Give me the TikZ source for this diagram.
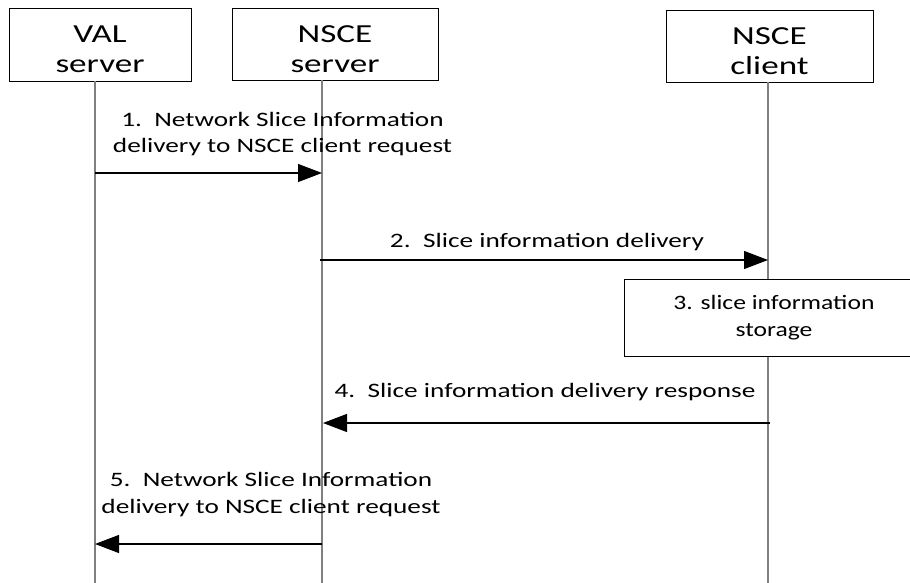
\documentclass[tikz,border=0pt]{standalone}
\usepackage{fontspec}
\newfontfamily\boxfont[FakeStretch=1.35]{Carlito}
\newfontfamily\lblfont[FakeStretch=1.33]{Carlito}
\newfontfamily\stfont[FakeStretch=1.25]{Carlito}
\usetikzlibrary{arrows.meta}
\begin{document}
\begin{tikzpicture}[x=1pt,y=-1pt,
  actor/.style={draw=black, line width=0.9pt, inner sep=0pt, align=center,
    font=\boxfont\fontsize{26}{30}\selectfont},
  life/.style={draw=black!50, line width=1.4pt},
  msg/.style={draw=black, line width=1.1pt, -{Triangle[length=24pt,width=18pt]}},
  lbl/.style={inner sep=0pt, align=center, font=\lblfont\fontsize{20.5}{26.5}\selectfont},
  procbox/.style={draw=black, line width=0.9pt, fill=white, inner sep=0pt, align=center,
    font=\stfont\fontsize{20.5}{27}\selectfont},
]
\useasboundingbox (0,0) rectangle (910,583);
% actors
\node[actor, minimum width=182pt, minimum height=73pt] (val) at (100,44.5) {\rule{0pt}{27pt}VAL\\server};
\node[actor, minimum width=206pt, minimum height=72pt] (srv) at (335,44) {\rule{0pt}{27pt}NSCE\\server};
\node[actor, minimum width=207pt, minimum height=72pt] (cli) at (769.5,46) {\rule{0pt}{27pt}NSCE\\client};
% lifeline ends
\coordinate (valB) at (95,583);
\coordinate (srvB) at (322,583);
\coordinate (cliB) at (768,583);
\draw[life] (val.south -| valB) -- (valB);
\draw[life] (srv.south -| srvB) -- (srvB);
\draw[life] (cli.south -| cliB) -- (cliB);
% message end points
\coordinate (m1a) at (95,173);  \coordinate (m1b) at (322,173);
\coordinate (m2a) at (320,260); \coordinate (m2b) at (768,260);
\coordinate (m4a) at (770,423); \coordinate (m4b) at (323,423);
\coordinate (m5a) at (322,544); \coordinate (m5b) at (95,544);
% messages
\draw[msg] (m1a) -- (m1b);
\node[lbl] (l1) at (282.5,134) {1.~~Network Slice Information\\delivery to NSCE client request};
\draw[msg] (m2a) -- (m2b);
\node[lbl, anchor=base] (l2) at (547,247) {2.~~Slice information delivery};
\node[procbox, minimum width=300pt, minimum height=77pt] (st) at (774,317.5) {3. slice information\\storage};
\draw[msg] (m4a) -- (m4b);
\node[lbl, anchor=base] (l4) at (545,397) {4.~~Slice information delivery response};
\draw[msg] (m5a) -- (m5b);
\node[lbl] (l5) at (271,494.6) {5.~~Network Slice Information\\delivery to NSCE client request};
\end{tikzpicture}
\end{document}
